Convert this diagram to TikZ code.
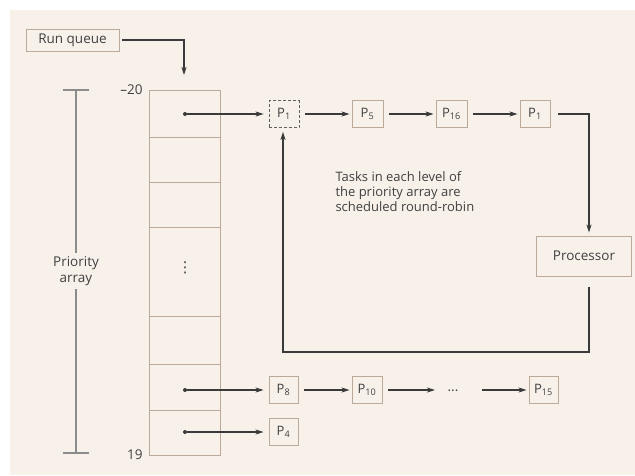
\documentclass[tikz,border=0pt]{standalone}
\usepackage{fontspec}
\setmainfont{Open Sans}
\newfontfamily\dejavu{DejaVu Sans}
\usetikzlibrary{arrows.meta}
\definecolor{bg}{HTML}{F7F1EA}
\definecolor{tanline}{HTML}{BBA999}
\definecolor{ink}{HTML}{3A3A3A}
\definecolor{txt}{HTML}{404040}
\definecolor{brk}{HTML}{8C8C8C}
\begin{document}
\begin{tikzpicture}[x=1pt,y=-1pt,
  every node/.style={text=txt},
  boxline/.style={draw=tanline, line width=0.9pt},
  pbox/.style={boxline, minimum width=30pt, minimum height=27pt, inner sep=0pt, font=\fontsize{13}{15}\selectfont},
  conn/.style={draw=ink, line width=1.1pt, -{Stealth[length=8pt,width=5pt,inset=2pt]}},
  link/.style={conn, shorten <=6pt, shorten >=2pt},
  dotmark/.style={circle, fill=ink, inner sep=0pt, minimum size=4pt},
  lbl/.style={font=\fontsize{13.5}{15}\selectfont},
  brkline/.style={draw=brk, line width=1.4pt}]
\useasboundingbox (0,0) rectangle (635,475);
\fill[bg] (10,10) rectangle (635,475);

% run queue
\node[boxline, lbl, minimum width=93pt, minimum height=22pt, inner sep=0pt] (rq) at (72.5,40) {Run queue};
\coordinate (rqend) at (184,75);
\draw[conn, shorten <=3pt] (rq.east) -| (rqend);

% priority array
\draw[boxline] (149,90) rectangle (220,455);
\foreach \y in {137,182,227,316,364,410} \draw[boxline] (149,\y) -- (220,\y);
\node[font=\dejavu\fontsize{15}{17}\selectfont] (vd) at (185,268) {⋮};
\node[anchor=east, lbl] (top) at (146,90) {–20};
\node[anchor=east, lbl] (bot) at (146,455) {19};

% bracket
\node[align=center, font=\fontsize{13.5}{16}\selectfont] (pa) at (76,271) {Priority\\array};
\coordinate (bt) at (76,90);
\coordinate (bb) at (76,453);
\draw[brkline] (63,90) -- (89,90);
\draw[brkline] (63,453) -- (89,453);
\draw[brkline] (bt) -- (pa.north);
\draw[brkline] (pa.south) -- (bb);

% row markers
\node[dotmark] (d1) at (185,114) {};
\node[dotmark] (d2) at (185,390) {};
\node[dotmark] (d3) at (185,432) {};

% top queue
\node[pbox, dashed, dash pattern=on 3pt off 2pt, draw=ink!80, line width=0.8pt] (p1a) at (284,114) {P\textsubscript{1}};
\node[pbox, minimum width=31pt] (p5) at (367.5,114) {P\textsubscript{5}};
\node[pbox, minimum width=31pt] (p16) at (451.5,114) {P\textsubscript{16}};
\node[pbox] (p1b) at (535,114) {P\textsubscript{1}};

% processor
\node[boxline, lbl, minimum width=95pt, minimum height=40pt, inner sep=0pt] (proc) at (584,256) {Processor};
\coordinate (tr) at (589,114);
\coordinate (br) at (589,352);
\coordinate (bl) at (283,352);

% note
\node[anchor=west, align=left, font=\fontsize{13}{15}\selectfont] (note) at (332,192) {Tasks in each level of\\the priority array are\\scheduled round-robin};

% bottom queues
\node[pbox, minimum width=29pt] (p8) at (283.5,390) {P\textsubscript{8}};
\node[pbox] (p10) at (367,390) {P\textsubscript{10}};
\node[lbl, inner sep=1pt] (dots) at (453,393) {···};
\node[pbox, minimum width=29pt] (p15) at (543.5,390) {P\textsubscript{15}};
\node[pbox, minimum width=29pt] (p4) at (283.5,432) {P\textsubscript{4}};
\coordinate (dl) at (435,390);
\coordinate (dr) at (482,390);

% connectors
\draw[conn, shorten >=5pt] (d1) -- (p1a.west);
\draw[link] (p1a) -- (p5);
\draw[link] (p5) -- (p16);
\draw[link] (p16) -- (p1b);
\draw[conn, shorten <=8pt, shorten >=3pt] (p1b.east) -- (tr) -- (proc.north -| tr);
\draw[conn, shorten <=11pt, shorten >=4pt] (proc.south -| br) -- (br) -- (bl) -- (p1a.south -| bl);

\draw[conn, shorten >=5pt] (d2) -- (p8.west);
\draw[link] (p8) -- (p10);
\draw[conn, shorten <=6pt] (p10.east) -- (dl);
\draw[conn, shorten >=2pt] (dr) -- (p15.west);
\draw[conn, shorten >=5pt] (d3) -- (p4.west);
\end{tikzpicture}
\end{document}
